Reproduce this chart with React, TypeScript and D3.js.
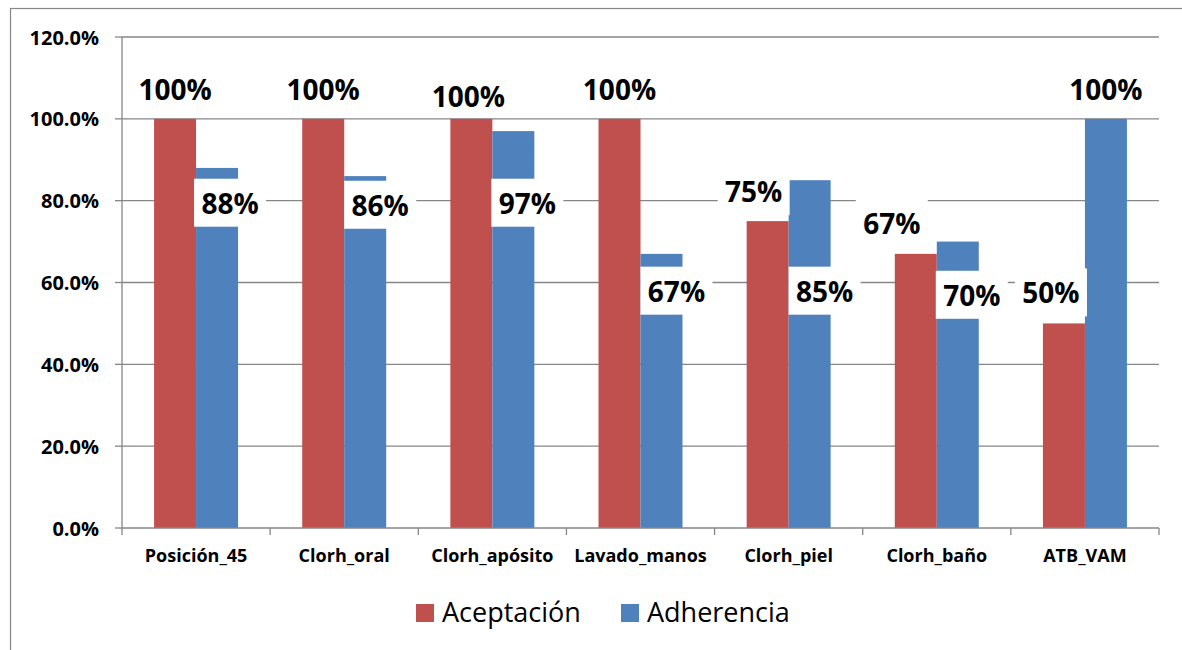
import React from "react";
import * as d3 from "d3";

const categories = ["Posición_45", "Clorh_oral", "Clorh_apósito", "Lavado_manos", "Clorh_piel", "Clorh_baño", "ATB_VAM"];
const seriesNames = ["Aceptación", "Adherencia"];
const aceptacion = [1.0, 1.0, 1.0, 1.0, 0.75, 0.67, 0.5];
const adherencia = [0.88, 0.86, 0.97, 0.67, 0.85, 0.7, 1.0];
const yTicks = [0, 0.2, 0.4, 0.6, 0.8, 1.0, 1.2];

// label anchors (value units for y; null = above bar), horizontal shifts in px
const aceptLabelDy = [-30, -30, -23, -30, -30, -31, -31];
const aceptLabelDx = [0, 0, -3, 0, -14, -24, -13];
const adherLabelAt: (number | null)[] = [0.795, 0.79, 0.795, 0.58, 0.58, 0.57, null];
const adherLabelDx = [13, 15, 14, 15, 15, 14, 0];

const colors = ["#C0504D", "#4F81BD"];
const W = 1182;
const H = 650;
const plot = { left: 122, right: 1159, top: 37, bottom: 528 };
const gridColor = "#868686";
const font = "'Open Sans', 'Noto Sans', sans-serif";

export default function App() {
  const x = d3.scaleBand<string>().domain(categories).range([plot.left, plot.right]).paddingInner(0).paddingOuter(0);
  const xs = d3.scaleBand<string>().domain(seriesNames).range([0, x.bandwidth()]).paddingInner(0).paddingOuter(0.764);
  const y = d3.scaleLinear().domain([0, 1.2]).range([plot.bottom, plot.top]);
  const fmtTick = d3.format(".1%");
  const fmtLbl = d3.format(".0%");
  const series = [aceptacion, adherencia];

  const labelBox = (cx: number, cy: number, text: string, key: string, maxBottom = Infinity) => {
    const w = text.length >= 4 ? 90 : 72;
    const top = cy - 24;
    const bottom = Math.min(cy + 24, maxBottom);
    return (
      <g key={key}>
        <rect x={cx - w / 2} y={top} width={w} height={bottom - top} fill="#fff" />
        <text x={cx} y={cy} textAnchor="middle" dominantBaseline="central" fontFamily={font} fontWeight={700} fontSize={28} fill="#000">
          {text}
        </text>
      </g>
    );
  };

  return (
    <svg width={W} height={H} style={{ position: "absolute", left: 0, top: 0 }} xmlns="http://www.w3.org/2000/svg">
      <rect x={0} y={0} width={W} height={H} fill="#fff" />
      <rect x={10.5} y={8.5} width={1300} height={800} fill="none" stroke={gridColor} strokeWidth={1.2} />
      {/* gridlines & y ticks */}
      {yTicks.map((t) => (
        <g key={t}>
          {t > 0 && <line x1={plot.left} x2={plot.right} y1={y(t)} y2={y(t)} stroke={gridColor} strokeWidth={1.3} />}
          <line x1={plot.left - 7} x2={plot.left} y1={y(t)} y2={y(t)} stroke={gridColor} strokeWidth={1.3} />
          <text x={99} y={y(t)} textAnchor="end" dominantBaseline="central" fontFamily={font} fontWeight={700} fontSize={20} fill="#000">
            {fmtTick(t)}
          </text>
        </g>
      ))}
      {/* bars */}
      {series.map((vals, si) =>
        vals.map((v, i) => (
          <rect
            key={`b${si}-${i}`}
            x={(x(categories[i]) as number) + (xs(seriesNames[si]) as number)}
            y={y(v)}
            width={xs.bandwidth()}
            height={y(0) - y(v)}
            fill={colors[si]}
          />
        ))
      )}
      {/* axes */}
      <line x1={plot.left} x2={plot.left} y1={plot.top} y2={plot.bottom} stroke={gridColor} strokeWidth={1.3} />
      <line x1={plot.left} x2={plot.right} y1={plot.bottom} y2={plot.bottom} stroke={gridColor} strokeWidth={1.3} />
      {categories.map((c, i) => (
        <line key={`xt${i}`} x1={x(c) as number} x2={x(c) as number} y1={plot.bottom} y2={plot.bottom + 7} stroke={gridColor} strokeWidth={1.3} />
      ))}
      <line x1={plot.right} x2={plot.right} y1={plot.bottom} y2={plot.bottom + 7} stroke={gridColor} strokeWidth={1.3} />
      {categories.map((c) => (
        <text key={`xl${c}`} x={(x(c) as number) + x.bandwidth() / 2} y={562} textAnchor="middle" fontFamily={font} fontWeight={700} fontSize={18} fill="#000">
          {c}
        </text>
      ))}
      {/* data labels */}
      {aceptacion.map((v, i) => {
        const cx = (x(categories[i]) as number) + (xs(seriesNames[0]) as number) + xs.bandwidth() / 2 + aceptLabelDx[i];
        return labelBox(cx, y(v) + aceptLabelDy[i], fmtLbl(v), `la${i}`, y(v) - 1);
      })}
      {adherencia.map((v, i) => {
        const cx = (x(categories[i]) as number) + (xs(seriesNames[1]) as number) + xs.bandwidth() / 2 + adherLabelDx[i];
        const at = adherLabelAt[i];
        const cy = at === null ? y(v) - 30 : y(at);
        return labelBox(cx, cy, fmtLbl(v), `ld${i}`, at === null ? y(v) - 1 : Infinity);
      })}
      {/* legend */}
      {seriesNames.map((s, i) => {
        const lx = [416, 621][i];
        return (
          <g key={`lg${s}`}>
            <rect x={lx} y={604} width={18} height={18} fill={colors[i]} />
            <text x={lx + 26} y={622} fontFamily={font} fontSize={27} fill="#000">
              {s}
            </text>
          </g>
        );
      })}
    </svg>
  );
}
